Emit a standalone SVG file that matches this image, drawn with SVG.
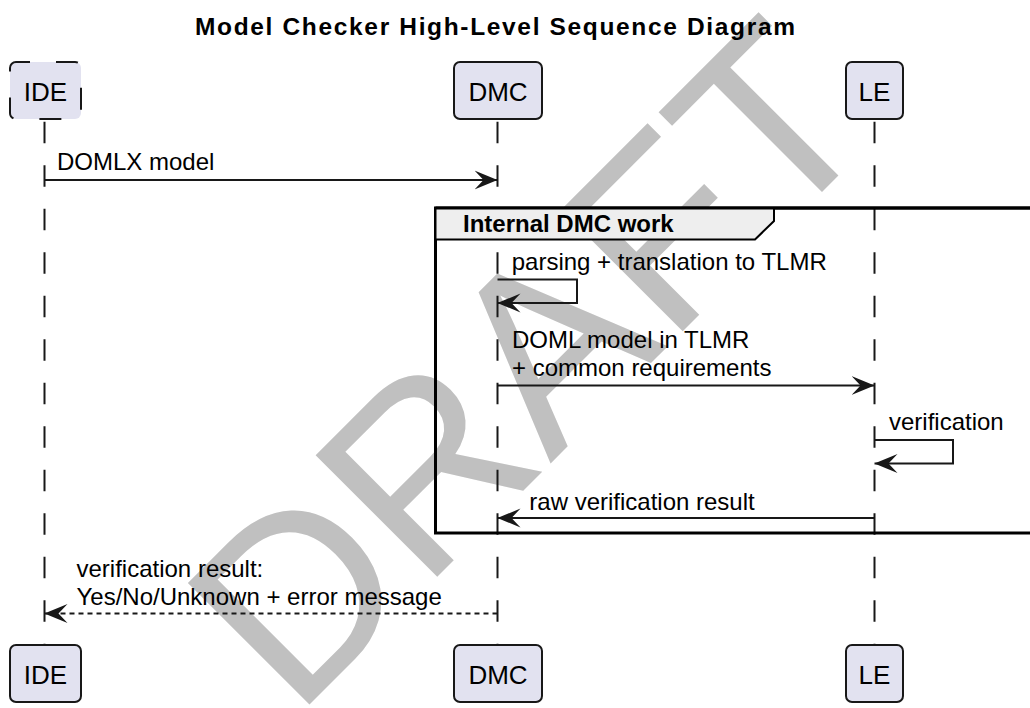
<svg xmlns="http://www.w3.org/2000/svg" width="1030" height="708" viewBox="0 0 1030 708">
<style>
text{font-family:"Liberation Sans",Arial,sans-serif;fill:#000}
.title{font-size:24.5px;font-weight:bold}
.plabel{font-size:26px}
.msg{font-size:24px}
.flabel{font-size:24px;font-weight:bold}
.pbox{fill:#E2E2F0;stroke:#181818;stroke-width:2}
.life{stroke:#181818;stroke-width:2;stroke-dasharray:21.5 22;fill:none}
.arrow{stroke:#181818;stroke-width:2;fill:none;marker-end:url(#ah)}
.wm{font-size:250px;fill:#C0C0C0}
</style>
<defs>
<marker id="ah" markerUnits="userSpaceOnUse" viewBox="0 0 23 20" refX="23" refY="10" markerWidth="23" markerHeight="20" orient="auto">
<path d="M0,0.5 L23,10 L0,19.5 L9,10 Z" fill="#181818"/>
</marker>
</defs>
<rect width="1030" height="708" fill="#FFFFFF"/>
<text class="wm" x="295" y="719" transform="rotate(-45 295 719)">DRAFT</text>
<text class="title" x="495" y="35" text-anchor="middle" textLength="600" lengthAdjust="spacing">Model Checker High-Level Sequence Diagram</text>
<g id="lifelines">
<line class="life" x1="44.5" y1="121.7" x2="44.5" y2="645"/>
<line class="life" x1="497.5" y1="121.7" x2="497.5" y2="645"/>
<line class="life" x1="874.5" y1="121.7" x2="874.5" y2="645"/>
</g>
<g id="frame-internal-dmc-work">
<rect x="435.5" y="208" width="620" height="325" fill="none" stroke="#000" stroke-width="3"/>
<path d="M435.5,208 H774 V221 L755,239.5 H435.5 Z" fill="#EEEEEE" stroke="#000" stroke-width="2"/>
<line x1="435.5" y1="208" x2="1040" y2="208" stroke="#000" stroke-width="3"/>
<text class="flabel" x="463" y="232">Internal DMC work</text>
</g>
<g id="IDE">
<rect class="pbox" x="10" y="62" width="71" height="57" rx="6" stroke-dasharray="22 26" stroke-dashoffset="8"/>
<text class="plabel" x="45.5" y="101" text-anchor="middle">IDE</text>
<rect class="pbox" x="10" y="645" width="71" height="57" rx="6"/>
<text class="plabel" x="45.5" y="684" text-anchor="middle">IDE</text>
</g>
<g id="DMC">
<rect class="pbox" x="454" y="62" width="88" height="57" rx="6"/>
<text class="plabel" x="498" y="101" text-anchor="middle">DMC</text>
<rect class="pbox" x="454" y="645" width="88" height="57" rx="6"/>
<text class="plabel" x="498" y="684" text-anchor="middle">DMC</text>
</g>
<g id="LE">
<rect class="pbox" x="846" y="62" width="57" height="57" rx="6"/>
<text class="plabel" x="874.5" y="101" text-anchor="middle">LE</text>
<rect class="pbox" x="846" y="645" width="57" height="57" rx="6"/>
<text class="plabel" x="874.5" y="684" text-anchor="middle">LE</text>
</g>
<g id="connectors">
<line class="arrow" x1="44.5" y1="180" x2="497.5" y2="180"/>
<text class="msg" x="57" y="170">DOMLX model</text>
<path class="arrow" d="M497.5,279.5 H577 V303 H497.5"/>
<text class="msg" x="511.7" y="270">parsing + translation to TLMR</text>
<line class="arrow" x1="497.5" y1="385.5" x2="874.5" y2="385.5"/>
<text class="msg" x="512" y="348">DOML model in TLMR</text>
<text class="msg" x="512" y="376">+ common requirements</text>
<path class="arrow" d="M874.5,440 H953 V463.5 H874.5"/>
<text class="msg" x="889" y="430">verification</text>
<line class="arrow" x1="874.5" y1="518" x2="497.5" y2="518"/>
<text class="msg" x="529.3" y="510">raw verification result</text>
<line class="arrow" x1="497.5" y1="613.5" x2="44.5" y2="613.5" stroke-dasharray="5 4"/>
<text class="msg" x="76.5" y="577">verification result:</text>
<text class="msg" x="76.5" y="605">Yes/No/Unknown + error message</text>
</g>
</svg>
